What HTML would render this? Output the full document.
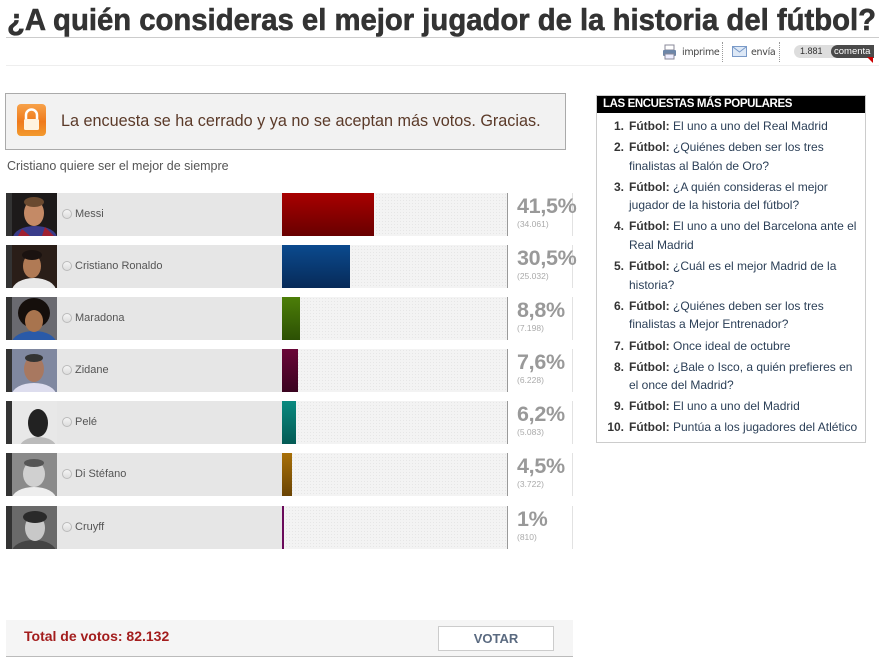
<!DOCTYPE html>
<html><head><meta charset="utf-8"><style>
*{margin:0;padding:0;box-sizing:border-box}
body{width:879px;height:657px;background:#fff;font-family:"Liberation Sans",Arial,sans-serif;position:relative;overflow:hidden}
.a{position:absolute}
.row{position:absolute;left:6px;width:566px;height:43px}
.strip{position:absolute;left:0;top:0;width:6px;height:43px;background:#333}
.ph{position:absolute;left:6px;top:0;width:45px;height:43px;overflow:hidden}
.gr{position:absolute;left:51px;top:0;width:225px;height:43px;background:#e6e6e6}
.rad{position:absolute;left:5px;top:16px;width:10px;height:10px;border-radius:50%;border:1px solid #bbb;background:linear-gradient(#f4f4f4,#ddd)}
.nm{position:absolute;left:18px;top:15px;font-size:11px;color:#555}
.bg{position:absolute;left:276px;top:0;width:225px;height:43px;background-color:#f3f3f3;background-image:radial-gradient(#e6e6e6 0.6px,transparent 0.7px);background-size:3px 3px}
.bar{position:absolute;left:276px;top:0;height:43px}
.vl{position:absolute;left:501px;top:0;width:1px;height:43px;background:#999}
.vr{position:absolute;left:566px;top:0;width:1px;height:43px;background:#e2e2e2}
.pc{position:absolute;left:511px;top:1px;font-size:21.5px;font-weight:bold;color:#999;letter-spacing:-0.3px}
.ct{position:absolute;left:511px;top:26px;font-size:8.5px;color:#aaa}
ol{list-style:none}
.li{position:relative;padding-left:29px;font-size:12px;line-height:18.6px;margin-bottom:2.5px;color:#2b3f57;width:264px}
.li b{color:#333}
.li .n{position:absolute;left:0;width:24px;text-align:right;font-weight:bold;color:#333}
</style></head><body>

<svg class="a" style="left:0;top:0" width="879" height="40">
<text x="7" y="30" font-family="Liberation Sans, Arial, sans-serif" font-weight="bold" font-size="31" fill="#333" stroke="#333" stroke-width="0.6" textLength="869" lengthAdjust="spacingAndGlyphs">¿A quién consideras el mejor jugador de la historia del fútbol?</text>
</svg>
<div class="a" style="left:6px;top:37px;width:873px;height:1px;background:#ccc"></div>

<!-- tools -->
<svg class="a" style="left:662px;top:44px" width="16" height="16"><rect x="3" y="1" width="9" height="5" fill="#fff" stroke="#889"/><rect x="1" y="6" width="13" height="6" rx="1" fill="#6d86a8"/><rect x="3" y="10" width="9" height="5" fill="#eef" stroke="#889"/></svg>
<div class="a" style="left:682px;top:47px;font-size:9.5px;color:#444;font-family:'DejaVu Sans',sans-serif;letter-spacing:-0.3px">imprime</div>
<div class="a" style="left:722px;top:42px;height:20px;border-left:1px dotted #999"></div>
<svg class="a" style="left:732px;top:46px" width="15" height="12"><rect x="0.5" y="0.5" width="14" height="10" fill="#dde8f6" stroke="#7a9ac8"/><path d="M1 1 L7.5 6 L14 1" stroke="#7a9ac8" fill="none"/></svg>
<div class="a" style="left:751px;top:47px;font-size:9.5px;color:#444;font-family:'DejaVu Sans',sans-serif;letter-spacing:-0.3px">envía</div>
<div class="a" style="left:779px;top:42px;height:20px;border-left:1px dotted #999"></div>
<div class="a" style="left:794px;top:45px;width:46px;height:13px;border-radius:7px;background:#ddd;font-size:9px;color:#333;padding-left:6px;line-height:13px">1.881</div>
<div class="a" style="left:831px;top:45px;width:43px;height:13px;border-radius:7px 0 0 7px;background:#4a4a4a;font-size:9.5px;color:#fff;padding-left:3px;line-height:13px">comenta</div>
<svg class="a" style="left:866px;top:57px" width="8" height="7"><path d="M1 0 L7 0 L7 6 Z" fill="#c00"/></svg>
<div class="a" style="left:6px;top:65px;width:873px;height:1px;background:#eee"></div>

<!-- notice -->
<div class="a" style="left:5px;top:93px;width:561px;height:57px;background:#f2f2f2;border:1px solid #aaa"></div>
<div class="a" style="left:17px;top:104px;width:29px;height:32px;border-radius:4px;background:linear-gradient(#f7a24a,#ef7a1c 55%,#f29a2e)"></div>
<svg class="a" style="left:17px;top:104px" width="29" height="32"><path d="M9 15 V11 a5.5 5.5 0 0 1 11 0 V15" stroke="#fff" stroke-width="2.5" fill="none"/><rect x="7" y="15" width="15" height="11" rx="1.5" fill="#fff3e0"/></svg>
<div class="a" style="left:61px;top:112px;font-size:16.2px;color:#5b3a29">La encuesta se ha cerrado y ya no se aceptan más votos. Gracias.</div>
<div class="a" style="left:7px;top:159px;font-size:12.5px;color:#555">Cristiano quiere ser el mejor de siempre</div>

<!-- rows -->
<div class="row" style="top:193px"><div class="strip"></div>
<svg class="ph" viewBox="0 0 45 43"><rect width="45" height="43" fill="#1d1a1a"/><ellipse cx="23" cy="45" rx="22" ry="12" fill="#3a3c8a"/><path d="M10 36 L18 43 L6 43Z" fill="#a02030"/><path d="M33 34 L42 43 L30 43Z" fill="#a02030"/><ellipse cx="22" cy="20" rx="10" ry="13" fill="#c48a66"/><ellipse cx="22" cy="9" rx="10" ry="5" fill="#6a4a30"/></svg>
<div class="gr"><div class="rad"></div><div class="nm">Messi</div></div>
<div class="bg"></div><div class="bar" style="width:92px;background:linear-gradient(#a80000,#680000)"></div>
<div class="vl"></div><div class="vr"></div><div class="pc">41,5%</div><div class="ct">(34.061)</div></div>

<div class="row" style="top:245px"><div class="strip"></div>
<svg class="ph" viewBox="0 0 45 43"><rect width="45" height="43" fill="#2a1e18"/><ellipse cx="22" cy="46" rx="22" ry="13" fill="#e8e8e8"/><ellipse cx="20" cy="21" rx="9" ry="12" fill="#b07a55"/><ellipse cx="20" cy="10" rx="10" ry="5" fill="#1a1210"/></svg>
<div class="gr"><div class="rad"></div><div class="nm">Cristiano Ronaldo</div></div>
<div class="bg"></div><div class="bar" style="width:68px;background:linear-gradient(#0b4a8e,#072a58)"></div>
<div class="vl"></div><div class="vr"></div><div class="pc">30,5%</div><div class="ct">(25.032)</div></div>

<div class="row" style="top:297px"><div class="strip"></div>
<svg class="ph" viewBox="0 0 45 43"><rect width="45" height="43" fill="#6a6a70"/><ellipse cx="22" cy="46" rx="22" ry="12" fill="#2a5aa8"/><ellipse cx="22" cy="16" rx="16" ry="15" fill="#150f0c"/><ellipse cx="22" cy="24" rx="9" ry="11" fill="#a8744e"/></svg>
<div class="gr"><div class="rad"></div><div class="nm">Maradona</div></div>
<div class="bg"></div><div class="bar" style="width:18px;background:linear-gradient(#4c7e08,#2c5004)"></div>
<div class="vl"></div><div class="vr"></div><div class="pc">8,8%</div><div class="ct">(7.198)</div></div>

<div class="row" style="top:349px"><div class="strip"></div>
<svg class="ph" viewBox="0 0 45 43"><rect width="45" height="43" fill="#8088a0"/><ellipse cx="22" cy="46" rx="22" ry="12" fill="#dde"/><ellipse cx="22" cy="20" rx="10" ry="13" fill="#a87860"/><ellipse cx="22" cy="9" rx="9" ry="4" fill="#333"/></svg>
<div class="gr"><div class="rad"></div><div class="nm">Zidane</div></div>
<div class="bg"></div><div class="bar" style="width:16px;background:linear-gradient(#6a0638,#3a0420)"></div>
<div class="vl"></div><div class="vr"></div><div class="pc">7,6%</div><div class="ct">(6.228)</div></div>

<div class="row" style="top:401px"><div class="strip"></div>
<svg class="ph" viewBox="0 0 45 43"><rect width="45" height="43" fill="#e8e8e8"/><ellipse cx="26" cy="46" rx="18" ry="10" fill="#bbb"/><ellipse cx="26" cy="22" rx="10" ry="14" fill="#222"/></svg>
<div class="gr"><div class="rad"></div><div class="nm">Pelé</div></div>
<div class="bg"></div><div class="bar" style="width:14px;background:linear-gradient(#0a8a80,#045a55)"></div>
<div class="vl"></div><div class="vr"></div><div class="pc">6,2%</div><div class="ct">(5.083)</div></div>

<div class="row" style="top:453px"><div class="strip"></div>
<svg class="ph" viewBox="0 0 45 43"><rect width="45" height="43" fill="#8a8a8a"/><ellipse cx="22" cy="46" rx="22" ry="12" fill="#eee"/><ellipse cx="22" cy="21" rx="11" ry="13" fill="#d0d0d0"/><ellipse cx="22" cy="10" rx="10" ry="4" fill="#555"/></svg>
<div class="gr"><div class="rad"></div><div class="nm">Di Stéfano</div></div>
<div class="bg"></div><div class="bar" style="width:10px;background:linear-gradient(#a87008,#6a4404)"></div>
<div class="vl"></div><div class="vr"></div><div class="pc">4,5%</div><div class="ct">(3.722)</div></div>

<div class="row" style="top:506px"><div class="strip"></div>
<svg class="ph" viewBox="0 0 45 43"><rect width="45" height="43" fill="#6a6a6a"/><ellipse cx="22" cy="46" rx="22" ry="12" fill="#444"/><ellipse cx="23" cy="22" rx="10" ry="13" fill="#c8c8c8"/><ellipse cx="23" cy="11" rx="12" ry="6" fill="#2a2a2a"/></svg>
<div class="gr"><div class="rad"></div><div class="nm">Cruyff</div></div>
<div class="bg"></div><div class="bar" style="width:2px;background:#6a0a5a"></div>
<div class="vl"></div><div class="vr"></div><div class="pc">1%</div><div class="ct">(810)</div></div>

<!-- footer -->
<div class="a" style="left:6px;top:620px;width:567px;height:37px;background:#f5f5f5;border-bottom:1px solid #bbb"></div>
<div class="a" style="left:24px;top:628px;font-size:14px;font-weight:bold;color:#a31d1d">Total de votos: 82.132</div>
<div class="a" style="left:438px;top:626px;width:116px;height:25px;background:#fff;border:1px solid #ccc;text-align:center;line-height:23px;font-size:13px;font-weight:bold;color:#5a6a80">VOTAR</div>

<!-- sidebar -->
<div class="a" style="left:596px;top:95px;width:270px;height:348px;border:1px solid #ccc;background:#fff">
<div style="margin:0;height:17px;background:#000;color:#fff;font-weight:bold;font-size:11.5px;line-height:17px;padding-left:6px;letter-spacing:-0.4px">LAS ENCUESTAS MÁS POPULARES</div>
<ol style="padding-top:4px;padding-left:3px">
<li class="li"><span class="n">1.</span><b>Fútbol:</b> El uno a uno del Real Madrid</li>
<li class="li"><span class="n">2.</span><b>Fútbol:</b> ¿Quiénes deben ser los tres finalistas al Balón de Oro?</li>
<li class="li"><span class="n">3.</span><b>Fútbol:</b> ¿A quién consideras el mejor jugador de la historia del fútbol?</li>
<li class="li"><span class="n">4.</span><b>Fútbol:</b> El uno a uno del Barcelona ante el Real Madrid</li>
<li class="li"><span class="n">5.</span><b>Fútbol:</b> ¿Cuál es el mejor Madrid de la historia?</li>
<li class="li"><span class="n">6.</span><b>Fútbol:</b> ¿Quiénes deben ser los tres finalistas a Mejor Entrenador?</li>
<li class="li"><span class="n">7.</span><b>Fútbol:</b> Once ideal de octubre</li>
<li class="li"><span class="n">8.</span><b>Fútbol:</b> ¿Bale o Isco, a quién prefieres en el once del Madrid?</li>
<li class="li"><span class="n">9.</span><b>Fútbol:</b> El uno a uno del Madrid</li>
<li class="li"><span class="n">10.</span><b>Fútbol:</b> Puntúa a los jugadores del Atlético</li>
</ol>
</div>
</body></html>
